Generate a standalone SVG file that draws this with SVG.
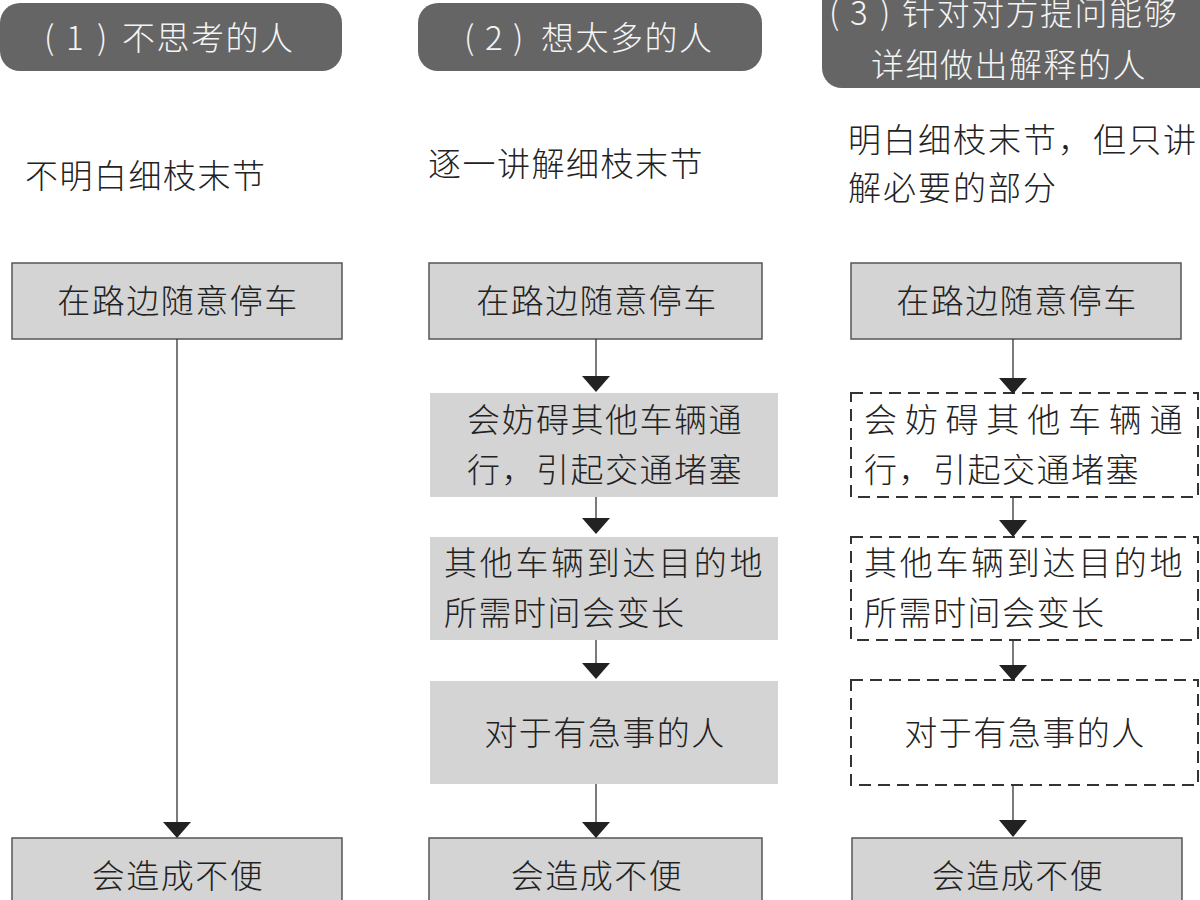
<svg xmlns="http://www.w3.org/2000/svg" width="1200" height="900" viewBox="0 0 1200 900">
<style>
text{font-family:"Noto Sans CJK SC","Noto Sans CJK JP",sans-serif;font-size:33px;font-weight:300;letter-spacing:1.5px;fill:#222;}
.pill{fill:#656565;}
.pt{fill:#f4f4f4;}
.box{fill:#d4d4d4;stroke:#555;stroke-width:1.5;}
.gbox{fill:#d4d4d4;}
.dbox{fill:#fff;stroke:#333;stroke-width:2;stroke-dasharray:12 7;}
.c{text-anchor:middle;}
.ln{stroke:#333;stroke-width:1.3;fill:none;}
.ah{fill:#222;}
</style>
<rect width="1200" height="900" fill="#fff"/>
<g id="h1"><rect class="pill" x="0" y="3" width="342" height="68" rx="20"/><text class="pt" y="50"><tspan x="44">(</tspan><tspan x="66">1</tspan><tspan x="97">)</tspan><tspan x="122">不思考的人</tspan></text></g>
<g id="h2"><rect class="pill" x="418" y="3" width="344" height="68" rx="20"/><text class="pt" y="50"><tspan x="464">(</tspan><tspan x="485">2</tspan><tspan x="513">)</tspan><tspan x="541">想太多的人</tspan></text></g>
<g id="h3"><rect class="pill" x="822" y="-30" width="410" height="118" rx="20"/><text class="pt" y="25"><tspan x="829">(</tspan><tspan x="850">3</tspan><tspan x="880">)</tspan><tspan x="902">针对对方提问能够</tspan></text><text class="pt" x="871" y="77">详细做出解释的人</text></g>
<g id="s1"><text x="25" y="188">不明白细枝末节</text></g>
<g id="s2"><text x="428" y="176">逐一讲解细枝末节</text></g>
<g id="s3"><text x="848" y="152" style="letter-spacing:2px">明白细枝末节，但只讲</text><text x="848" y="200" style="letter-spacing:2px">解必要的部分</text></g>
<g id="a1"><rect class="box" x="12" y="263" width="330" height="76"/><text class="c" x="178" y="313">在路边随意停车</text></g>
<g id="a2"><rect class="box" x="12" y="838" width="330" height="80"/><text class="c" x="178" y="888">会造成不便</text></g>
<g id="b1"><rect class="box" x="429" y="263" width="333" height="76"/><text class="c" x="597" y="313">在路边随意停车</text></g>
<g id="b2"><rect class="gbox" x="430" y="393" width="348" height="104"/><text class="c" x="605" y="432">会妨碍其他车辆通</text><text class="c" x="605" y="482">行，引起交通堵塞</text></g>
<g id="b3"><rect class="gbox" x="430" y="537" width="348" height="103"/><text x="444" y="575" textLength="320" lengthAdjust="spacing">其他车辆到达目的地</text><text x="444" y="625">所需时间会变长</text></g>
<g id="b4"><rect class="gbox" x="430" y="681" width="348" height="103"/><text class="c" x="605" y="745">对于有急事的人</text></g>
<g id="b5"><rect class="box" x="429" y="838" width="333" height="80"/><text class="c" x="597" y="888">会造成不便</text></g>
<g id="c1"><rect class="box" x="851" y="263" width="330" height="76"/><text class="c" x="1017" y="313">在路边随意停车</text></g>
<g id="c2"><rect class="dbox" x="851" y="393" width="347" height="104"/><text x="864" y="432" textLength="320" lengthAdjust="spacing">会妨碍其他车辆通</text><text x="864" y="482">行，引起交通堵塞</text></g>
<g id="c3"><rect class="dbox" x="851" y="537" width="347" height="103"/><text x="864" y="575" textLength="320" lengthAdjust="spacing">其他车辆到达目的地</text><text x="864" y="625">所需时间会变长</text></g>
<g id="c4"><rect class="dbox" x="851" y="680" width="347" height="105"/><text class="c" x="1025" y="745">对于有急事的人</text></g>
<g id="c5"><rect class="box" x="852" y="838" width="330" height="80"/><text class="c" x="1018" y="888">会造成不便</text></g>
<g id="connectors">
<line class="ln" x1="177" y1="339" x2="177" y2="823"/><polygon class="ah" points="163,822 191,822 177,838"/>
<line class="ln" x1="596" y1="339" x2="596" y2="377"/><polygon class="ah" points="582,376 610,376 596,392"/>
<line class="ln" x1="596" y1="497" x2="596" y2="519"/><polygon class="ah" points="582,518 610,518 596,534"/>
<line class="ln" x1="596" y1="640" x2="596" y2="664"/><polygon class="ah" points="582,663 610,663 596,679"/>
<line class="ln" x1="596" y1="784" x2="596" y2="823"/><polygon class="ah" points="582,822 610,822 596,838"/>
<line class="ln" x1="1013" y1="339" x2="1013" y2="379"/><polygon class="ah" points="999,378 1027,378 1013,394"/>
<line class="ln" x1="1013" y1="497" x2="1013" y2="521"/><polygon class="ah" points="999,520 1027,520 1013,537"/>
<line class="ln" x1="1013" y1="640" x2="1013" y2="666"/><polygon class="ah" points="999,665 1027,665 1013,681"/>
<line class="ln" x1="1013" y1="785" x2="1013" y2="821"/><polygon class="ah" points="999,820 1027,820 1013,837"/>
</g>
</svg>
